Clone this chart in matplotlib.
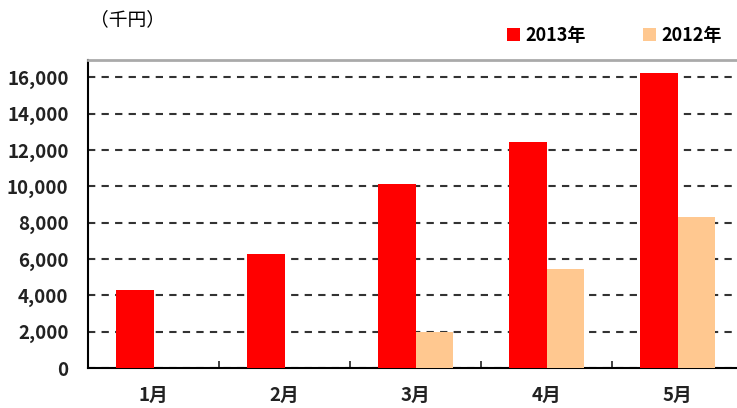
import matplotlib
matplotlib.use("Agg")
import matplotlib.pyplot as plt
import numpy as np

plt.rcParams['font.family'] = ['Noto Sans CJK JP', 'DejaVu Sans']

months = ["1月", "2月", "3月", "4月", "5月"]
sales_2013 = [4300, 6300, 10150, 12450, 16250]
sales_2012 = [np.nan, np.nan, 2000, 5450, 8300]
yticks = list(range(0, 16001, 2000))

fig = plt.figure(figsize=(7.37, 4.08), dpi=100)
ax = fig.add_axes([88 / 737, 40 / 408, 655 / 737, 308 / 408])

x = np.arange(len(months))
w = 0.29
ax.bar(x - w, sales_2013, width=w, align="edge", color="#ff0000", zorder=3, label="2013年")
ax.bar(x, sales_2012, width=w, align="edge", color="#ffc890", zorder=3, label="2012年")

ax.set_xlim(-0.5, 4.5)
ax.set_ylim(0, 16950)
ax.set_yticks(yticks)
ax.set_yticklabels([f"{v:,}" for v in yticks], fontsize=13.5, fontweight="bold", color="#222222")
ax.set_xticks(x)
ax.set_xticklabels(months, fontsize=13.5, fontweight="bold", color="#222222")
ax.tick_params(axis="x", length=0, pad=13)
ax.tick_params(axis="y", length=0, pad=14)

# category separators on the x axis (small inward ticks)
ax.set_xticks(np.arange(0.5, 4.5, 1.0), minor=True)
ax.tick_params(axis="x", which="minor", direction="in", length=5, width=1.2, color="#222222")

ax.grid(axis="y", linestyle=(0, (3.5, 3)), color="#333333", linewidth=1.5, zorder=1)
ax.spines["top"].set_color("#aaaaaa")
ax.spines["top"].set_linewidth(2)
ax.spines["right"].set_visible(False)
ax.spines["left"].set_linewidth(1.5)
ax.spines["bottom"].set_linewidth(1.5)

fig.text(90 / 737, 1 - 20 / 408, "（千円）", fontsize=13.5, va="center", ha="left")
fig.legend(loc="upper left", bbox_to_anchor=(507 / 737, 1 - 26 / 408), ncol=2, frameon=False,
           borderpad=0, borderaxespad=0, handlelength=0.7, handleheight=0.7,
           handletextpad=0.3, columnspacing=3.2,
           prop={"weight": "bold", "size": 13})

fig.savefig("out.png", dpi=100)
